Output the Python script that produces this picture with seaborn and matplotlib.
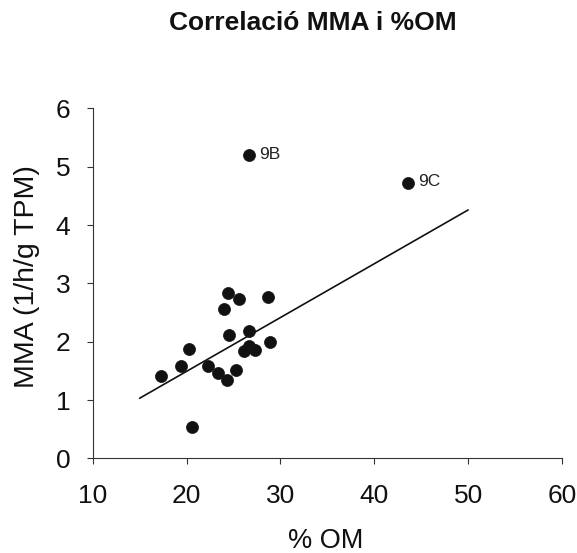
import matplotlib
matplotlib.use("Agg")
import matplotlib.pyplot as plt
import seaborn as sns
import pandas as pd

# Data
om = [17.3, 19.4, 20.3, 20.6, 22.3, 23.4, 24.3, 25.3, 24.0, 24.4, 25.6, 28.7,
      24.5, 26.6, 26.6, 26.1, 27.3, 28.9, 26.7, 43.6]
mma = [1.42, 1.58, 1.87, 0.53, 1.58, 1.47, 1.34, 1.51, 2.56, 2.83, 2.73, 2.76,
       2.11, 2.18, 1.93, 1.84, 1.85, 1.99, 5.20, 4.73]
labels = [""] * 18 + ["9B", "9C"]
trend_x = [15, 50]
trend_y = [1.03, 4.26]
x_ticks = [10, 20, 30, 40, 50, 60]
y_ticks = [0, 1, 2, 3, 4, 5, 6]

df = pd.DataFrame({"om": om, "mma": mma, "label": labels})
trend = pd.DataFrame({"x": trend_x, "y": trend_y})

sns.set_style("ticks")
plt.rcParams["font.family"] = ["Liberation Sans", "DejaVu Sans"]

W, H = 577, 553
x0, x1 = 92.7, 562.0
y0, y1 = 458.3, 108.5
fig = plt.figure(figsize=(W / 100, H / 100), dpi=100)
ax = fig.add_axes([x0 / W, 1 - y0 / H, (x1 - x0) / W, (y0 - y1) / H])

sns.lineplot(data=trend, x="x", y="y", ax=ax, color="#111111", linewidth=1.2)
sns.scatterplot(data=df, x="om", y="mma", ax=ax, color="#111111", s=75,
                edgecolor="#111111", linewidth=0.5, zorder=3)

for xv, yv, lab in zip(om, mma, labels):
    if lab:
        ax.annotate(lab, (xv, yv), xytext=(7, 0.5), textcoords="offset points",
                    va="center", ha="left", fontsize=12.5, color="#222222")

ax.set_xlim(10, 60)
ax.set_ylim(0, 6)
ax.set_xticks(x_ticks)
ax.set_yticks(y_ticks)
ax.tick_params(axis="both", labelsize=19, length=4, width=0.8, color="#333333",
               labelcolor="#111111")
ax.tick_params(axis="x", pad=14.5)
ax.tick_params(axis="y", pad=12)
for side in ["top", "right"]:
    ax.spines[side].set_visible(False)
for side in ["left", "bottom"]:
    ax.spines[side].set_linewidth(0.8)
    ax.spines[side].set_color("#333333")

ax.set_xlabel("% OM", fontsize=19.5, color="#111111")
ax.set_ylabel("MMA (1/h/g TPM)", fontsize=20.5, color="#111111")
ax.xaxis.set_label_coords((326 - x0) / (x1 - x0), -(548 - y0) / (y0 - y1))
ax.yaxis.set_label_coords(-(x0 - 27) / (x1 - x0), (y0 - 277) / (y0 - y1))
ax.xaxis.label.set_va("baseline")
ax.yaxis.label.set_va("center")
fig.text(313 / W, 1 - 23 / H, "Correlació MMA i %OM", ha="center", va="center",
         fontsize=19, fontweight="bold", color="#111111")

fig.savefig("out.png", dpi=100)
